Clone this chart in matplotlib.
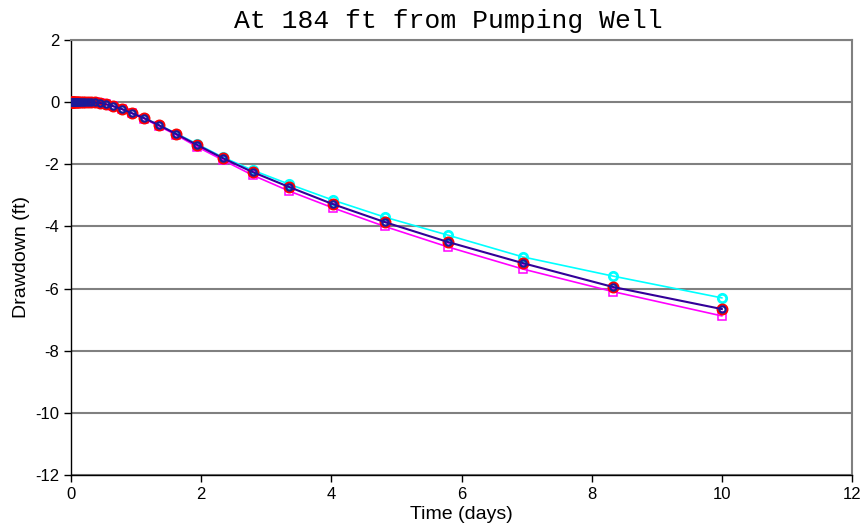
import matplotlib.pyplot as plt

plt.rcParams["axes.unicode_minus"] = False

# time (days) and drawdown (ft) at the observation point
time_days = [0.01, 0.015, 0.02, 0.025, 0.03, 0.035, 0.04, 0.05, 0.06, 0.07, 0.085,
             0.10, 0.12, 0.15, 0.18, 0.22, 0.26, 0.31, 0.37, 0.45, 0.54, 0.65, 0.78,
             0.93, 1.12, 1.35, 1.62, 1.94, 2.33, 2.79, 3.35, 4.02, 4.82, 5.79, 6.94,
             8.33, 10.0]
observed = [0.0, 0.0, 0.0, 0.0, 0.0, 0.0, 0.0, 0.0, 0.0, 0.0, 0.0,
            0.0, 0.0, 0.0, 0.0, 0.0, 0.0, -0.01, -0.01, -0.03, -0.07, -0.13, -0.22,
            -0.35, -0.51, -0.74, -1.03, -1.38, -1.80, -2.25, -2.73, -3.28, -3.86, -4.50, -5.18,
            -5.95, -6.66]
model_low = [0.0, 0.0, 0.0, 0.0, 0.0, 0.0, 0.0, 0.0, 0.0, 0.0, 0.0,
             0.0, 0.0, 0.0, 0.0, 0.0, 0.0, -0.01, -0.01, -0.03, -0.07, -0.13, -0.22,
             -0.35, -0.51, -0.73, -1.01, -1.35, -1.77, -2.19, -2.64, -3.15, -3.70, -4.28, -4.98,
             -5.60, -6.30]
model_high = [0.0, 0.0, 0.0, 0.0, 0.0, 0.0, 0.0, 0.0, 0.0, 0.0, 0.0,
              0.0, 0.0, 0.0, 0.0, 0.0, 0.0, -0.01, -0.01, -0.03, -0.07, -0.14, -0.23,
              -0.36, -0.53, -0.77, -1.06, -1.44, -1.86, -2.35, -2.86, -3.40, -4.00, -4.66, -5.37,
              -6.10, -6.88]

x_ticks = [0, 2, 4, 6, 8, 10, 12]
y_ticks = [2, 0, -2, -4, -6, -8, -10, -12]

fig = plt.figure(figsize=(8.67, 5.29), dpi=100)
ax = fig.add_axes([0.0819, 0.1021, 0.9008, 0.8223])

ax.plot(time_days, model_low, color="#00ffff", linewidth=1.2, marker="o", markersize=6,
        markerfacecolor="none", markeredgecolor="#00ffff", markeredgewidth=2, zorder=3)
ax.plot(time_days, model_high, color="#ff00ff", linewidth=1.2, marker="s", markersize=6,
        markerfacecolor="none", markeredgecolor="#ff00ff", markeredgewidth=1.1, zorder=3)
ax.plot(time_days, observed, linestyle="none", marker="o", markersize=7,
        markerfacecolor="none", markeredgecolor="#ff0000", markeredgewidth=1.6, zorder=4)
ax.plot(time_days, observed, color="#330099", linewidth=1.5, marker="o", markersize=4.5,
        markerfacecolor="none", markeredgecolor="#1a1a99", markeredgewidth=1.6, zorder=5)

ax.set_xlim(0, 12)
ax.set_ylim(-12, 2)
ax.set_xticks(x_ticks)
ax.set_yticks(y_ticks)
ax.yaxis.grid(True, color="#808080", linewidth=1.5)
ax.set_axisbelow(True)

for side in ("top", "right"):
    ax.spines[side].set_color("#808080")
    ax.spines[side].set_linewidth(1.5)
for side in ("left", "bottom"):
    ax.spines[side].set_color("black")
    ax.spines[side].set_linewidth(1.0)
ax.tick_params(direction="out", length=5, width=1, labelsize=12)
for lbl in ax.get_xticklabels() + ax.get_yticklabels():
    lbl.set_fontfamily("Liberation Sans")

ax.set_xlabel("Time (days)", fontsize=14, family="Liberation Sans", labelpad=3)
ax.set_ylabel("Drawdown (ft)", fontsize=14, family="Liberation Sans", labelpad=4)
fig.text(0.517, 0.961, "At 184 ft from Pumping Well", fontsize=19,
         family="Liberation Mono", ha="center", va="center")

fig.savefig("out.png", dpi=100)
plt.close(fig)
